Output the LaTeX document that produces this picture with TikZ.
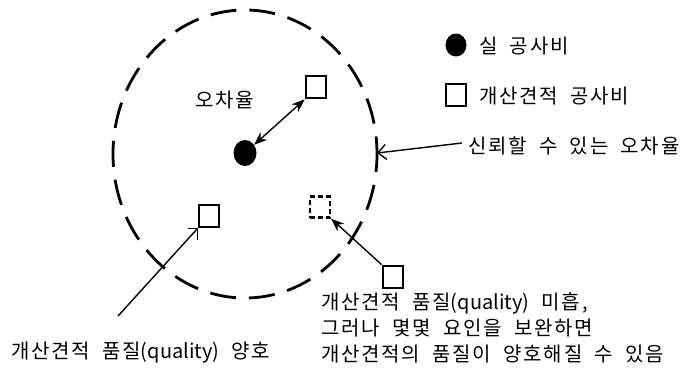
\documentclass[tikz,border=0pt]{standalone}
\usepackage{fontspec}
\setmainfont{Noto Sans CJK KR}[LetterSpace=8.9,WordSpace=1.96]
\newfontfamily\lat{Noto Sans CJK KR}
\usetikzlibrary{shapes.geometric,arrows.meta}
\begin{document}
\begin{tikzpicture}[x=1pt,y=-1pt,
  lbl/.style={font=\fontsize{20}{26}\selectfont, inner sep=0pt, anchor=west, align=left},
  sqbox/.style={draw, line width=2.8pt, minimum width=20pt, minimum height=22pt, inner sep=0pt},
  dsqbox/.style={draw, line width=2.4pt, dash pattern=on 5pt off 3pt, minimum width=20pt, minimum height=21pt, inner sep=0pt},
  dotnode/.style={ellipse, fill=black, minimum width=23pt, minimum height=26pt, inner sep=0pt},
  conn/.style={line width=1.4pt},
]
\fill[white] (0,0) rectangle (698,381);
\useasboundingbox (0,0) rectangle (698,381);
% dashed ellipse
\draw[line width=2.8pt, dash pattern=on 26pt off 13pt, dash phase=8pt] (245,154) ellipse [x radius=132, y radius=144];
% main symbols
\node[dotnode] (dot) at (245,153) {};
\node[sqbox] (sqa) at (316,87) {};
\node[sqbox] (sqb) at (209,216) {};
\node[dsqbox] (dsq) at (320,207) {};
\node[sqbox] (sqc) at (393,277) {};
\node[lbl, anchor=center] (err) at (225,100) {오차율};
% legend
\node[dotnode, minimum width=21pt, minimum height=23pt] (ldot) at (456,45) {};
\node[lbl] (ltxt1) at (479,46) {실 공사비};
\node[sqbox] (lsq) at (456,95) {};
\node[lbl] (ltxt2) at (479,96) {개산견적 공사비};
\node[lbl] (rel) at (468,146) {신뢰할 수 있는 오차율};
\coordinate (circpt) at (377,153);
% connectors
\draw[conn, {Stealth[length=13pt,width=10pt]}-{Stealth[length=13pt,width=10pt]}] (dot) -- (sqa.south west);
\draw[conn, -{Straight Barb[length=8pt,width=15pt]}] (rel.west) ++(-6,-3) coordinate (relst) -- (circpt);
\coordinate (blst) at (118,316);
\draw[conn] (blst) -- (sqb.south west);
\draw[line width=1.6pt] (sqb.south west) ++(-10,0) -- ++(10,0) -- ++(0,12);
\draw[conn, -{Stealth[length=13pt,width=10pt]}] (sqc.north west) -- (dsq.south east);
% bottom labels
\node[lbl] (good) at (11,353) {개산견적 품질{\lat(quality)} 양호};
\node[lbl, anchor=north west] (poor) at (321,292) {개산견적 품질{\lat(quality)} 미흡,\\그러나 몇몇 요인을 보완하면\\개산견적의 품질이 양호해질 수 있음};
\end{tikzpicture}
\end{document}
